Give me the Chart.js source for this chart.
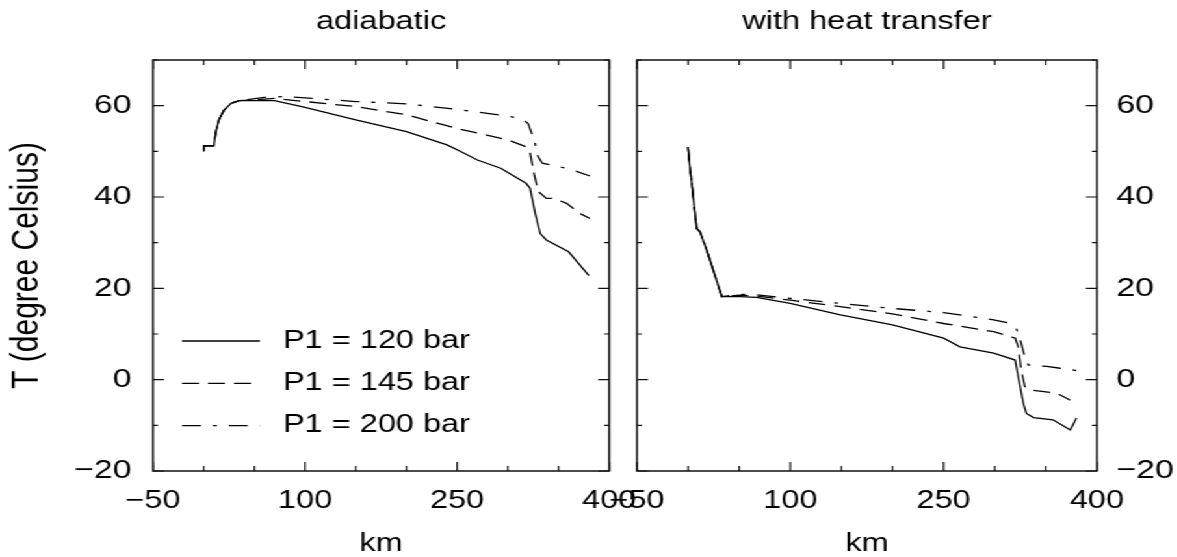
<!DOCTYPE html>
<html>
<head>
<meta charset="utf-8">
<script src="https://cdn.jsdelivr.net/npm/chart.js@4/dist/chart.umd.min.js"></script>
<style>
  html, body { margin: 0; padding: 0; background: #fff; overflow: hidden; }
  /* the original picture is stretched sideways, so stretch the whole drawing the same way */
  #wrap { position: absolute; left: 0; top: 0; width: 906px; height: 557px; transform: scaleX(1.3); transform-origin: 0 0; }
  #wrap canvas { position: absolute; top: 0; }
</style>
</head>
<body>
<div id="wrap">
  <canvas id="left" width="505" height="557" style="left:0"></canvas>
  <canvas id="right" width="466" height="557" style="left:440px"></canvas>
</div>
<script>
// data (km, degree Celsius)

// adiabatic
const adiaKm120 = [0, 0, 10, 12, 15, 20, 27, 35, 70, 100, 150, 200, 240, 254, 270, 293, 318, 322, 327, 332, 338, 360, 380];
const adiaT120  = [50, 51.2, 51.2, 54.3, 56.9, 59.0, 60.5, 61.1, 61.1, 59.6, 56.9, 54.3, 51.4, 49.9, 48.1, 46.3, 43.0, 41.9, 36.4, 32.0, 30.6, 28.0, 22.8];
const adiaKm145 = [0, 0, 10, 12, 15, 20, 27, 35, 45, 70, 100, 150, 200, 250, 300, 318, 322, 326, 330, 338, 345, 358, 371, 381];
const adiaT145  = [50, 51.2, 51.2, 54.3, 56.9, 59.0, 60.5, 61.1, 61.2, 61.6, 60.9, 59.8, 58.0, 55.0, 52.5, 51.0, 49.6, 45.0, 41.2, 39.7, 39.7, 38.6, 36.4, 35.3];
const adiaKm200 = [0, 0, 10, 12, 15, 20, 27, 35, 60, 80, 100, 150, 200, 250, 300, 315, 320, 326, 330, 334, 348, 364, 381];
const adiaT200  = [50, 51.2, 51.2, 54.3, 56.9, 59.0, 60.5, 61.1, 61.8, 62.0, 61.7, 60.9, 60.4, 59.2, 57.7, 57.0, 56.1, 52.5, 48.8, 47.4, 46.8, 45.9, 44.6];

// with heat transfer
const heatKm120 = [0, 1, 4.5, 8.4, 11.6, 18.2, 24.6, 33, 51, 67, 100, 149, 200, 250, 266, 299, 320, 323, 328, 331, 338, 357, 364, 374, 380];
const heatT120  = [50.9, 48.1, 41.2, 33.1, 32.4, 28.4, 24.0, 18.2, 18.2, 18.0, 16.7, 14.2, 12.0, 9.1, 7.2, 5.8, 4.3, 0.7, -5.2, -7.4, -8.3, -8.8, -9.7, -11.0, -8.4];
const heatKm145 = [0, 1, 4.5, 8.4, 11.6, 18.2, 24.6, 33, 50, 67, 100, 149, 200, 250, 299, 320, 323, 326, 329.5, 336, 348, 361, 374];
const heatT145  = [50.9, 48.1, 41.2, 33.1, 32.4, 28.4, 24.0, 18.2, 18.5, 18.3, 17.4, 16.0, 14.4, 12.3, 10.5, 9.1, 7.2, 2.1, -1.5, -2.3, -2.6, -3.0, -4.5];
const heatKm200 = [0, 1, 4.5, 8.4, 11.6, 18.2, 24.6, 33, 50, 67, 100, 149, 200, 250, 299, 312, 321, 325, 329.5, 333, 351, 364, 380];
const heatT200  = [50.9, 48.1, 41.2, 33.1, 32.4, 28.4, 24.0, 18.2, 18.7, 18.6, 17.8, 16.7, 15.6, 14.7, 13.1, 12.5, 11.3, 8.7, 5.0, 3.2, 2.9, 2.5, 2.0];

const seriesLabels = ['P1 = 120 bar', 'P1 = 145 bar', 'P1 = 200 bar'];
const panelTitles = ['adiabatic', 'with heat transfer'];
const xTickLabels = [-50, 100, 250, 400];
const yTickLabels = [-20, 0, 20, 40, 60];

const SX = 1.3;  // sideways stretch of the wrapper
const FONT = "'Liberation Sans', Arial, Helvetica, sans-serif";
const lineDashes = [[], [13, 7], [14.6, 9.2, 3, 9.2]];

function fmt(v) {
  return v < 0 ? '\u2212' + Math.abs(v) : String(v);
}

// gnuplot style frame with inward ticks on all four sides
const frameTicks = {
  id: 'frameTicks',
  afterDraw(chart) {
    const ctx = chart.ctx;
    const a = chart.chartArea;
    const x = chart.scales.x, y = chart.scales.y;
    ctx.save();
    ctx.strokeStyle = '#111';
    ctx.lineWidth = 1.2;
    ctx.beginPath();
    x.ticks.forEach(t => {
      const px = x.getPixelForValue(t.value);
      const len = xTickLabels.includes(t.value) ? 9 : 5;
      ctx.moveTo(px, a.bottom); ctx.lineTo(px, a.bottom - len);
      ctx.moveTo(px, a.top); ctx.lineTo(px, a.top + len);
    });
    y.ticks.forEach(t => {
      const py = y.getPixelForValue(t.value);
      const len = (yTickLabels.includes(t.value) ? 11 : 5) / SX;
      ctx.moveTo(a.left, py); ctx.lineTo(a.left + len, py);
      ctx.moveTo(a.right, py); ctx.lineTo(a.right - len, py);
    });
    ctx.stroke();
    ctx.lineWidth = 1.5;
    ctx.strokeRect(a.left, a.top, a.right - a.left, a.bottom - a.top);
    ctx.restore();
  }
};

// key drawn inside the left panel
const keyBox = {
  id: 'keyBox',
  afterDraw(chart) {
    const ctx = chart.ctx;
    const a = chart.chartArea;
    ctx.save();
    ctx.strokeStyle = '#000';
    ctx.fillStyle = '#000';
    ctx.lineWidth = 1.3;
    ctx.font = '25px ' + FONT;
    ctx.textBaseline = 'middle';
    ctx.textAlign = 'left';
    chart.data.datasets.forEach((ds, i) => {
      const yy = a.top + 281 + i * 42.3;
      ctx.setLineDash(ds.borderDash);
      ctx.beginPath();
      ctx.moveTo(a.left + 22.3, yy);
      ctx.lineTo(a.left + 82.3, yy);
      ctx.stroke();
      ctx.setLineDash([]);
      ctx.fillText(ds.label, a.left + 100, yy);
    });
    ctx.restore();
  }
};

function buildChart(canvasId, title, series, yPos, yWidth, padding, extra) {
  const tickFont = { family: FONT, size: 25 };
  return new Chart(document.getElementById(canvasId), {
    type: 'line',
    data: {
      datasets: series.map((s, i) => ({
        label: seriesLabels[i],
        data: s[0].map((v, j) => ({ x: v, y: s[1][j] })),
        borderColor: '#000',
        borderWidth: 1.3,
        borderDash: lineDashes[i],
        pointRadius: 0,
        fill: false,
        tension: 0
      }))
    },
    options: {
      responsive: false,
      animation: false,
      devicePixelRatio: 1,
      layout: { padding: padding },
      plugins: {
        legend: { display: false },
        tooltip: { enabled: false },
        title: {
          display: true, text: title, fullSize: false, color: '#000',
          font: { family: FONT, size: 25, weight: 'normal', lineHeight: 1.2 },
          padding: { top: 7, bottom: 23 }
        }
      },
      scales: {
        x: {
          type: 'linear', min: -50, max: 400,
          grid: { display: false, drawTicks: false },
          border: { display: false },
          ticks: {
            stepSize: 50, autoSkip: false, maxRotation: 0, minRotation: 0,
            padding: 15.5, color: '#000', font: tickFont,
            callback: v => xTickLabels.includes(v) ? fmt(v) : ''
          },
          title: { display: true, text: 'km', color: '#000', font: { family: FONT, size: 25, lineHeight: 1 }, padding: 0 },
          afterFit: s => { s.height = 86; }
        },
        y: {
          type: 'linear', position: yPos, min: -20, max: 70,
          grid: { display: false, drawTicks: false },
          border: { display: false },
          ticks: {
            stepSize: 10, autoSkip: false,
            padding: yPos === 'left' ? 16.5 : 15, color: '#000', font: { family: FONT, size: 26 },
            callback: v => yTickLabels.includes(v) ? fmt(v) : ''
          },
          title: {
            display: yPos === 'left', text: 'T (degree Celsius)', color: '#000',
            font: { family: FONT, size: 30, lineHeight: 1.2 }, padding: { top: 2.8, bottom: 0 }
          },
          afterFit: s => { s.width = yWidth; }
        }
      }
    },
    plugins: [frameTicks].concat(extra)
  });
}

buildChart('left', panelTitles[0],
  [[adiaKm120, adiaT120], [adiaKm145, adiaT145], [adiaKm200, adiaT200]],
  'left', 117.7, { left: 0, right: 33.5, top: 0, bottom: 0 }, [keyBox]);

buildChart('right', panelTitles[1],
  [[heatKm120, heatT120], [heatKm145, heatT145], [heatKm200, heatT200]],
  'right', 62.2, { left: 50, right: 0, top: 0, bottom: 0 }, []);
</script>
</body>
</html>
